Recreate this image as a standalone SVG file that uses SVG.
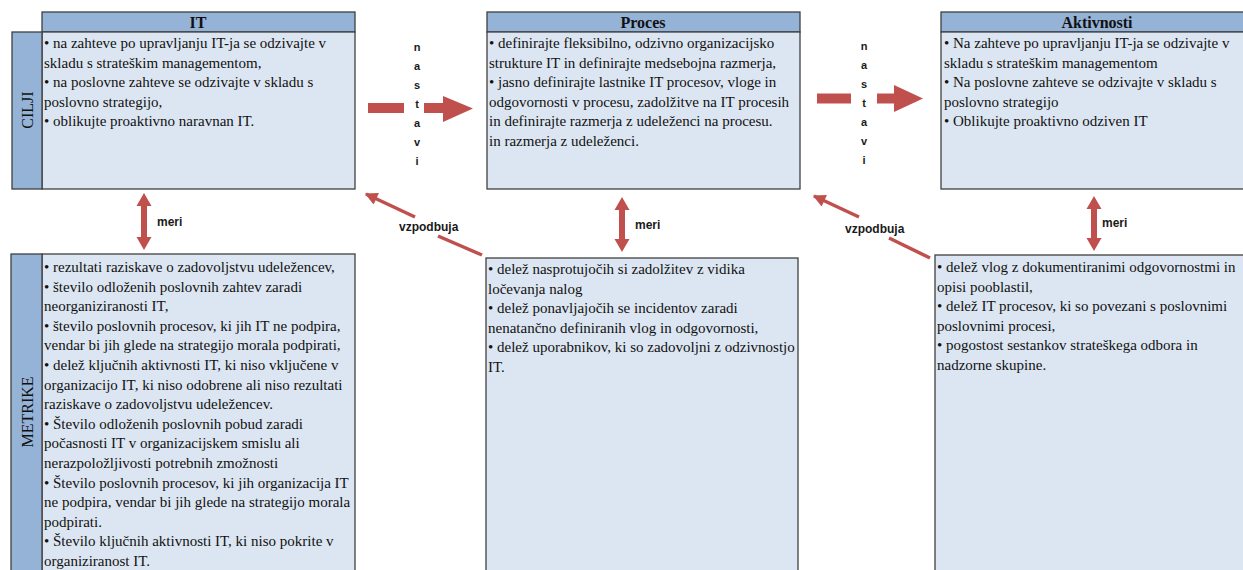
<svg xmlns="http://www.w3.org/2000/svg" width="1243" height="570" viewBox="0 0 1243 570">
<style>
.hd{fill:#95B3D7;stroke:#404040;stroke-width:1.3}
.bd{fill:#DCE6F2;stroke:#404040;stroke-width:1.3}
.t{font-family:"Liberation Serif","Times New Roman",serif;font-size:15px;fill:#111}
.h{font-family:"Liberation Serif","Times New Roman",serif;font-size:16px;font-weight:bold;fill:#111;text-anchor:middle}
.side{font-family:"Liberation Serif","Times New Roman",serif;font-size:16px;fill:#111;text-anchor:middle}
.lb{font-family:"Liberation Sans",Arial,sans-serif;font-size:12px;font-weight:bold;fill:#1a1a1a}
.nv{font-family:"Liberation Sans",Arial,sans-serif;font-size:11px;font-weight:bold;fill:#1a1a1a;text-anchor:middle}
.red{fill:#C0504D}
.ln{stroke:#C0504D;stroke-width:3.5;fill:none}
</style>
<defs>
<marker id="ah" viewBox="0 0 10 10" refX="9" refY="5" markerWidth="4" markerHeight="3.6" orient="auto" markerUnits="strokeWidth">
<path d="M0,0 L10,5 L0,10 Z" fill="#C0504D"/>
</marker>
</defs>

<g id="node-it">
<rect class="hd" x="42" y="12" width="313" height="20"/>
<rect class="bd" x="42" y="32" width="313" height="157"/>
<rect class="hd" x="12" y="32" width="30" height="157"/>
<text class="h" x="198" y="28">IT</text>
<text class="side" transform="translate(33,110) rotate(-90)">CILJI</text>
<text class="t" x="44" y="48">• na zahteve po upravljanju IT-ja se odzivajte v</text>
<text class="t" x="44" y="67.5">skladu s strateškim managementom,</text>
<text class="t" x="44" y="87">• na poslovne zahteve se odzivajte v skladu s</text>
<text class="t" x="44" y="106.5">poslovno strategijo,</text>
<text class="t" x="44" y="126">• oblikujte proaktivno naravnan IT.</text>
</g>

<g id="node-proces">
<rect class="hd" x="487" y="12" width="313" height="20"/>
<rect class="bd" x="487" y="32" width="313" height="157"/>
<text class="h" x="643" y="28">Proces</text>
<text class="t" x="489" y="48">• definirajte fleksibilno, odzivno organizacijsko</text>
<text class="t" x="489" y="67.5">strukture IT in definirajte medsebojna razmerja,</text>
<text class="t" x="489" y="87">• jasno definirajte lastnike IT procesov, vloge in</text>
<text class="t" x="489" y="106.5">odgovornosti v procesu, zadolžitve na IT procesih</text>
<text class="t" x="489" y="126">in definirajte razmerja z udeleženci na procesu.</text>
<text class="t" x="489" y="145.5">in razmerja z udeleženci.</text>
</g>

<g id="node-aktivnosti">
<rect class="hd" x="941" y="12" width="310" height="20"/>
<rect class="bd" x="941" y="32" width="310" height="157"/>
<text class="h" x="1097" y="28">Aktivnosti</text>
<text class="t" x="944" y="48">• Na zahteve po upravljanju IT-ja se odzivajte v</text>
<text class="t" x="944" y="67.5">skladu s strateškim managementom</text>
<text class="t" x="944" y="87">• Na poslovne zahteve se odzivajte v skladu s</text>
<text class="t" x="944" y="106.5">poslovno strategijo</text>
<text class="t" x="944" y="126">• Oblikujte proaktivno odziven IT</text>
</g>

<g id="node-metrike-it">
<rect class="bd" x="42" y="254" width="313" height="320"/>
<rect class="hd" x="11" y="254" width="31" height="320"/>
<text class="side" transform="translate(33,412) rotate(-90)">METRIKE</text>
<text class="t" x="44" y="272">• rezultati raziskave o zadovoljstvu udeležencev,</text>
<text class="t" x="44" y="291.6">• število odloženih poslovnih zahtev zaradi</text>
<text class="t" x="44" y="311.2">neorganiziranosti IT,</text>
<text class="t" x="44" y="330.8">• število poslovnih procesov, ki jih IT ne podpira,</text>
<text class="t" x="44" y="350.4">vendar bi jih glede na strategijo morala podpirati,</text>
<text class="t" x="44" y="370">• delež ključnih aktivnosti IT, ki niso vključene v</text>
<text class="t" x="44" y="389.6">organizacijo IT, ki niso odobrene ali niso rezultati</text>
<text class="t" x="44" y="409.2">raziskave o zadovoljstvu udeležencev.</text>
<text class="t" x="44" y="428.8">• Število odloženih poslovnih pobud zaradi</text>
<text class="t" x="44" y="448.4">počasnosti IT v organizacijskem smislu ali</text>
<text class="t" x="44" y="468">nerazpoložljivosti potrebnih zmožnosti</text>
<text class="t" x="44" y="487.6">• Število poslovnih procesov, ki jih organizacija IT</text>
<text class="t" x="44" y="507.2">ne podpira, vendar bi jih glede na strategijo morala</text>
<text class="t" x="44" y="526.8">podpirati.</text>
<text class="t" x="44" y="546.4">• Število ključnih aktivnosti IT, ki niso pokrite v</text>
<text class="t" x="44" y="566">organiziranost IT.</text>
</g>

<g id="node-metrike-proces">
<rect class="bd" x="486" y="258" width="312" height="316"/>
<text class="t" x="488" y="274">• delež nasprotujočih si zadolžitev z vidika</text>
<text class="t" x="488" y="293.6">ločevanja nalog</text>
<text class="t" x="488" y="313.2">• delež ponavljajočih se incidentov zaradi</text>
<text class="t" x="488" y="332.8">nenatančno definiranih vlog in odgovornosti,</text>
<text class="t" x="488" y="352.4">• delež uporabnikov, ki so zadovoljni z odzivnostjo</text>
<text class="t" x="488" y="372">IT.</text>
</g>

<g id="node-metrike-aktivnosti">
<rect class="bd" x="935" y="255" width="316" height="319"/>
<text class="t" x="937" y="272">• delež vlog z dokumentiranimi odgovornostmi in</text>
<text class="t" x="937" y="291.6">opisi pooblastil,</text>
<text class="t" x="937" y="311.2">• delež IT procesov, ki so povezani s poslovnimi</text>
<text class="t" x="937" y="330.8">poslovnimi procesi,</text>
<text class="t" x="937" y="350.4">• pogostost sestankov strateškega odbora in</text>
<text class="t" x="937" y="370">nadzorne skupine.</text>
</g>

<g id="connectors">
<rect class="red" x="368" y="103" width="36" height="10"/>
<polygon class="red" points="424,103 443,103 443,96 473,108.5 443,122 443,113 424,113"/>
<g>
<text class="nv" x="417" y="51">n</text>
<text class="nv" x="417" y="70">a</text>
<text class="nv" x="417" y="89">s</text>
<text class="nv" x="417" y="108">t</text>
<text class="nv" x="417" y="127">a</text>
<text class="nv" x="417" y="146">v</text>
<text class="nv" x="417" y="165">i</text>
</g>
<rect class="red" x="817" y="93.5" width="34" height="10"/>
<polygon class="red" points="877,93.5 894,93.5 894,85 923,98.5 894,112 894,103.5 877,103.5"/>
<g>
<text class="nv" x="864" y="50">n</text>
<text class="nv" x="864" y="69">a</text>
<text class="nv" x="864" y="88">s</text>
<text class="nv" x="864" y="107">t</text>
<text class="nv" x="864" y="126">a</text>
<text class="nv" x="864" y="145">v</text>
<text class="nv" x="864" y="164">i</text>
</g>
<polygon class="red" points="144,193 151.5,206 147,206 147,237 151.5,237 144,250 136.5,237 141,237 141,206 136.5,206"/>
<text class="lb" x="157" y="226">meri</text>
<polygon class="red" points="622,197 629.5,210 625,210 625,239 629.5,239 622,252 614.5,239 619,239 619,210 614.5,210"/>
<text class="lb" x="635" y="229">meri</text>
<polygon class="red" points="1094,196 1101.5,209 1097,209 1097,238 1101.5,238 1094,251 1086.5,238 1091,238 1091,209 1086.5,209"/>
<text class="lb" x="1102" y="227">meri</text>
<path class="ln" d="M482,255 L438,236"/>
<path class="ln" d="M415,217 L366,194" marker-end="url(#ah)"/>
<text class="lb" x="399" y="231">vzpodbuja</text>
<path class="ln" d="M930,258 L889,238"/>
<path class="ln" d="M859,217 L814,196" marker-end="url(#ah)"/>
<text class="lb" x="845" y="233">vzpodbuja</text>
</g>
</svg>
